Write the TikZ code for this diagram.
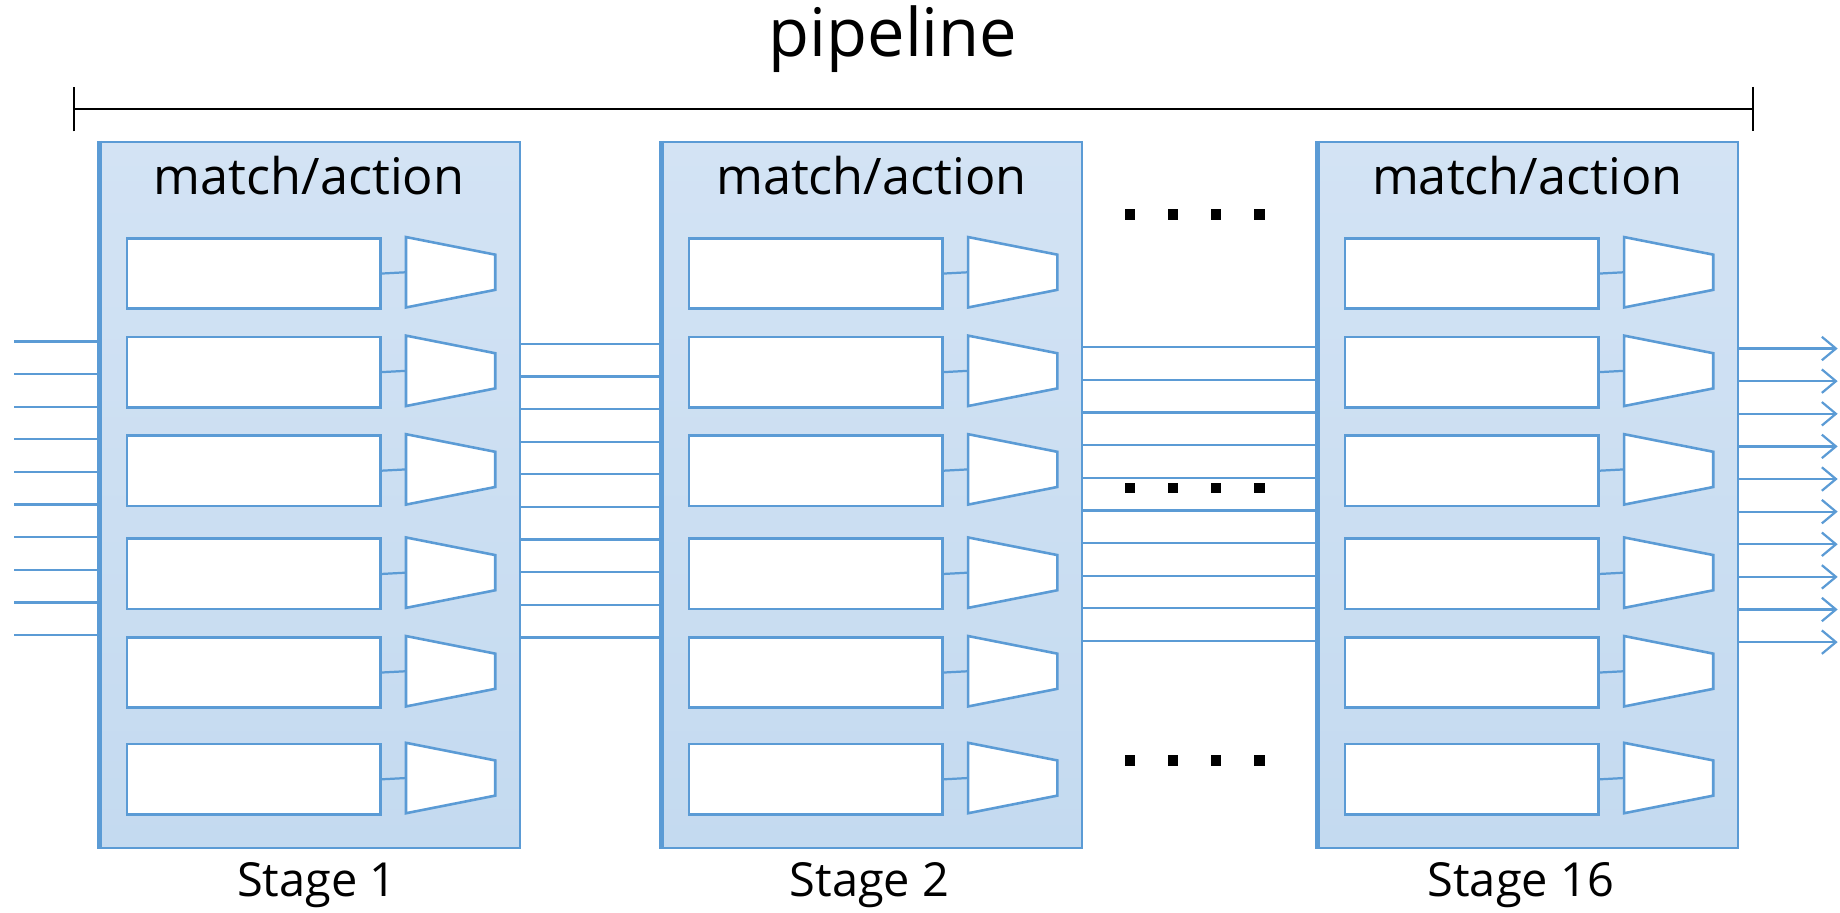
\documentclass[tikz,border=0pt]{standalone}
\usepackage{fontspec}
\setmainfont{Open Sans}
\usetikzlibrary{arrows.meta}

\definecolor{lineblue}{RGB}{91,155,213}
\definecolor{filltop}{RGB}{211,227,244}
\definecolor{fillbot}{RGB}{196,218,240}

\tikzstyle{stage}=[draw=lineblue,line width=0.9pt,top color=filltop,bottom color=fillbot,minimum width=178.5pt,minimum height=301pt,inner sep=0pt,anchor=north west]
\tikzstyle{mtable}=[draw=lineblue,line width=1.1pt,fill=white,minimum width=108pt,minimum height=30pt,inner sep=0pt,anchor=north west]
\tikzstyle{unit}=[draw=lineblue,line width=1.1pt,fill=white]
\tikzstyle{wire}=[draw=lineblue,line width=0.95pt]
\tikzstyle{stagetext}=[font=\fontsize{21.5}{24}\selectfont,inner sep=0pt]
\tikzstyle{dotbox}=[fill=black,minimum size=4.5pt,inner sep=0pt]

\begin{document}
\begin{tikzpicture}[x=0.5pt,y=-0.5pt]
  \useasboundingbox (0,0) rectangle (1568,778);

  % pipeline span
  \coordinate (pl) at (62,93);
  \coordinate (pr) at (1495,93);
  \draw[line width=1pt,{Bar[width=19pt]}-{Bar[width=19pt]}] (pl) -- (pr);
  \node[font=\fontsize{28.5}{32}\selectfont,inner sep=0pt] (title) at (761,33) {pipeline};

  % stages
  \foreach \s/\x/\lx in {1/85/270,2/564/741,16/1123/1296}{
    \node[stage] (st\s) at (\x,120) {};
    \draw[lineblue,line width=2pt] (st\s.north west) -- (st\s.south west);
    \node[stagetext] (ma\s) at (\x+178.5,150) {match/action};
    \node[stagetext,font=\fontsize{20}{24}\selectfont] (cap\s) at (\lx,754) {Stage \s};
    \foreach \r/\y in {1/202,2/286,3/370,4/458,5/542,6/633}{
      \node[mtable] (tb\s-\r) at (\x+22,\y) {};
      \coordinate (ac\s-\r) at (\x+261,\y+30);
      \draw[unit] (ac\s-\r) ++(0,-30) -- ++(76,15) -- ++(0,30) -- ++(-76,15) -- cycle;
      \draw[wire] (tb\s-\r.east) -- (ac\s-\r);
    }
  }

  % buses between the stages
  \foreach \i in {0,...,9}{
    \coordinate (in\i) at (12,{291+27.8*\i});
    \coordinate (a\i) at (0,{293+27.8*\i});
    \coordinate (b\i) at (0,{296+27.8*\i});
    \coordinate (out\i) at (1566,{297+27.8*\i});
    \draw[wire] (in\i) -- (st1.west |- in\i);
    \draw[wire] (st1.east |- a\i) -- (st2.west |- a\i);
    \draw[wire] (st2.east |- b\i) -- (st16.west |- b\i);
    \draw[wire,-{Straight Barb[length=6pt,width=10pt]}] (st16.east |- out\i) -- (out\i);
  }

  % dots
  \foreach \y in {183,416,648}
    \foreach \j in {0,...,3}
      \node[dotbox] (d\y-\j) at (963+36.7*\j,\y) {};
\end{tikzpicture}
\end{document}
